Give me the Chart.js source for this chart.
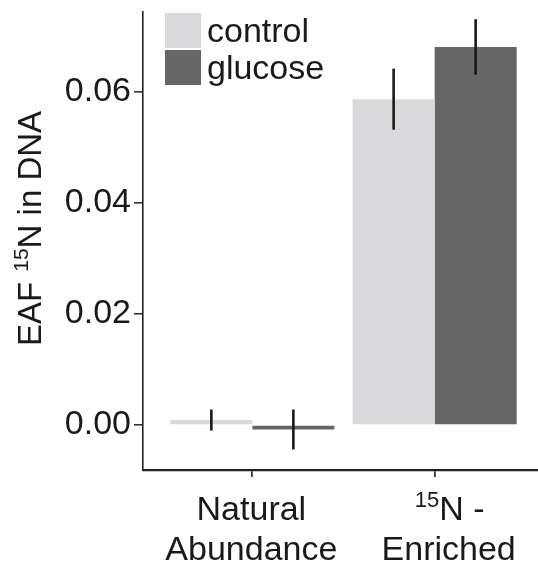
<!DOCTYPE html>
<html>
<head>
<meta charset="utf-8">
<script src="https://cdn.jsdelivr.net/npm/chart.js@4.4.1/dist/chart.umd.min.js"></script>
<style>
  html, body { margin: 0; padding: 0; background: #fff; overflow: hidden; width: 538px; height: 569px; }
  #eaf { display: block; }
</style>
</head>
<body>
<!-- a few px wider than the window: the panel runs off the right edge like the original -->
<canvas id="eaf" width="544" height="569" style="width:544px;height:569px"></canvas>
<script>
// data
const categories   = [['Natural', 'Abundance'], ['15N -', 'Enriched']];
const groups       = ['control', 'glucose'];
const controlMean  = [0.0009, 0.0587];
const glucoseMean  = [-0.0008, 0.0681];
const controlErr   = [0.0019, 0.0055];
const glucoseErr   = [0.0036, 0.0050];
const yTicks       = [0, 0.02, 0.04, 0.06];
const yMin = -0.0081, yMax = 0.0744;

const FONT = '"Liberation Sans", Arial, Helvetica, sans-serif';
const INK  = '#1a1a1a';
const COLORS = { control: '#d9d9db', glucose: '#666667' };
const LABEL_SHIFT = [-1, 14];   // second x label sits right of its tick

const toPoints = arr => arr.map((v, i) => ({ x: i + 1, y: v }));

// text with a "15" superscript in front of the part after it
function drawSup(ctx, pre, sup, post, x, y, size, align) {
  const big = `${size}px ${FONT}`, small = `${Math.round(size * 0.64)}px ${FONT}`;
  ctx.font = big;   const w1 = ctx.measureText(pre).width, w3 = ctx.measureText(post).width;
  ctx.font = small; const w2 = ctx.measureText(sup).width;
  const sx = align === 'center' ? x - (w1 + w2 + w3) / 2 : x;
  ctx.textAlign = 'left';
  ctx.textBaseline = 'alphabetic';
  ctx.font = big;   ctx.fillText(pre, sx, y);
  ctx.font = small; ctx.fillText(sup, sx + w1 + 1, y - size * 0.38);
  ctx.font = big;   ctx.fillText(post, sx + w1 + w2 + 1, y);
}

const extras = {
  id: 'extras',
  afterDatasetsDraw(chart) {
    const { ctx, scales: { y } } = chart;
    const errs = [controlErr, glucoseErr];
    ctx.save();
    ctx.strokeStyle = INK;
    ctx.lineWidth = 2.6;
    chart.data.datasets.forEach((ds, di) => {
      chart.getDatasetMeta(di).data.forEach((bar, i) => {
        const m = ds.data[i].y, e = errs[di][i];
        ctx.beginPath();
        ctx.moveTo(bar.x, y.getPixelForValue(m + e));
        ctx.lineTo(bar.x, y.getPixelForValue(m - e));
        ctx.stroke();
      });
    });
    ctx.restore();
  },
  afterDraw(chart) {
    const { ctx, scales: { x } } = chart;
    ctx.save();

    // legend, top left inside the panel
    chart.data.datasets.forEach((ds, i) => {
      const top = 13 + i * 37;
      ctx.fillStyle = ds.backgroundColor;
      ctx.fillRect(165, top, 36, 35);
      ctx.fillStyle = INK;
      ctx.font = `34px ${FONT}`;
      ctx.textAlign = 'left';
      ctx.textBaseline = 'alphabetic';
      ctx.fillText(ds.label, 207, top + 29);
    });

    // x labels
    ctx.fillStyle = INK;
    categories.forEach((lines, i) => {
      const cx = x.getPixelForValue(i + 1) + LABEL_SHIFT[i];
      lines.forEach((line, k) => {
        const by = 520 + k * 40;
        if (line.startsWith('15')) {
          drawSup(ctx, '', '15', line.slice(2), cx, by, 34, 'center');
        } else {
          ctx.font = `34px ${FONT}`;
          ctx.textAlign = 'center';
          ctx.textBaseline = 'alphabetic';
          ctx.fillText(line, cx, by);
        }
      });
    });

    // y title
    ctx.translate(41, 229);
    ctx.rotate(-Math.PI / 2);
    drawSup(ctx, 'EAF ', '15', 'N in DNA', 0, 0, 33, 'center');
    ctx.restore();
  }
};

new Chart(document.getElementById('eaf'), {
  type: 'bar',
  data: {
    datasets: [
      { label: groups[0], data: toPoints(controlMean), backgroundColor: COLORS.control, borderWidth: 0 },
      { label: groups[1], data: toPoints(glucoseMean), backgroundColor: COLORS.glucose, borderWidth: 0 },
    ],
  },
  options: {
    responsive: false, animation: false, devicePixelRatio: 1,
    categoryPercentage: 0.9, barPercentage: 1,
    layout: { padding: { top: 12, left: 0, right: 0, bottom: 0 } },
    plugins: { legend: { display: false }, tooltip: { enabled: false } },
    scales: {
      x: {
        type: 'linear', min: 0.4, max: 2.6, offset: false,
        afterBuildTicks: s => { s.ticks = categories.map((c, i) => ({ value: i + 1 })); },
        afterFit: s => { s.height = 99; s.paddingLeft = 0; s.paddingRight = 0; },
        ticks: { display: false },
        grid: { drawOnChartArea: false, drawTicks: true, tickLength: 7, color: '#333', lineWidth: 1.8, offset: false },
        border: { display: true, color: '#222', width: 2.2 },
      },
      y: {
        min: yMin, max: yMax,
        afterBuildTicks: s => { s.ticks = yTicks.map(v => ({ value: v })); },
        afterFit: s => { s.width = 143; s.paddingTop = 0; s.paddingBottom = 0; },
        ticks: { callback: v => v.toFixed(2), color: INK, font: { family: FONT, size: 34 }, padding: 3 },
        grid: { drawOnChartArea: false, drawTicks: true, tickLength: 9, color: '#333', lineWidth: 1.6 },
        border: { display: true, color: '#222', width: 1.6 },
      },
    },
  },
  plugins: [extras],
});
</script>
</body>
</html>
